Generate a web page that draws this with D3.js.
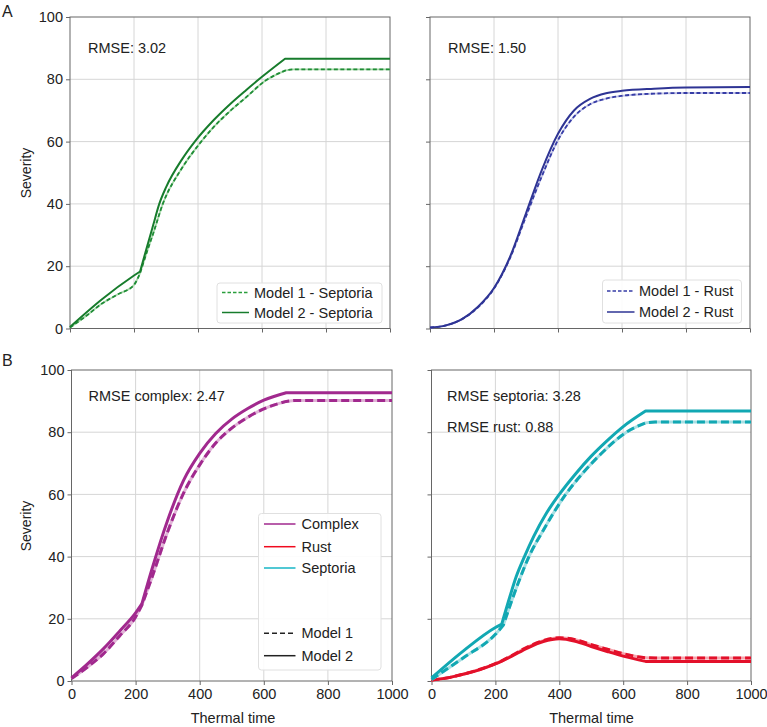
<!DOCTYPE html>
<html><head><meta charset="utf-8">
<script src="https://cdn.jsdelivr.net/npm/d3@7"></script>
<style>
body{margin:0;background:#fff;}
text{font-family:"Liberation Sans",Arial,Helvetica,sans-serif;fill:#222;}
</style></head><body>
<svg id="c" width="767" height="727"></svg>
<script>
// ---- data ----
const xTicks = [0,200,400,600,800,1000];
const yTicks = [0,20,40,60,80,100];

// Panel A left: Septoria
const tSeptM2 = [0,100,200,219,240,260,279,300,350,390,450,500,550,600,672,800,1000];
const septM2  = [0.5,9.4,17,18.3,26,33.2,40,45.3,54.3,60,67,72,76.5,80.8,86.6,86.6,86.6];
const tSeptM1 = [0,50,100,150,200,219,240,260,290,350,410,450,500,550,610,672,700,800,1000];
const septM1  = [0.3,4,8,11,14,17.8,24.5,30.5,40,51.5,60,64.8,69.8,74.2,79.5,82.8,83.2,83.2,83.2];
const septBreaks = [219,672];

// Panel A right: Rust
const tRust  = [0,50,100,150,200,250,300,350,400,450,500,550,600,700,800,1000];
const rustM2 = [0.3,1,3,7,13,23,37,51,62.5,70,73.7,75.5,76.3,77,77.4,77.5];
const rustM1 = [0.3,1,3,6.8,12.8,22.6,36,49,60.5,68,72,73.8,74.7,75.4,75.6,75.6];

// Panel B left: Complex
const tCx  = [0,50,100,150,200,220,250,300,350,400,450,500,550,600,670,700,800,1000];
const cxM2 = [1,5.5,10.4,16,21.9,24.9,35.6,51.7,64.6,73.2,79.6,84.2,87.6,90.3,92.7,92.7,92.7,92.7];
const cxM1 = [0.8,4.5,8.8,14.5,20.6,24.5,33,48,60.5,69.5,76.5,81.3,84.8,87.5,89.9,90.2,90.2,90.2];
const cxBreaks = [220,670];

// Panel B right: Septoria and Rust
const tBSeptM2 = [0,100,200,220,245,265,291,320,360,400,450,500,550,600,670,800,1000];
const bSeptM2  = [1,9.7,17.2,18.3,27,33.5,40,46.5,54,60,66.5,72.3,77.3,81.8,86.8,86.8,86.8];
const tBSeptM1 = [0,100,200,225,250,275,305,350,420,475,530,610,670,700,800,1000];
const bSeptM1  = [0.5,7.5,15,18,25.5,32.5,40,48.5,60,67,73,80,83,83.3,83.3,83.3];
const tBRust   = [0,50,100,150,200,220,250,300,350,400,450,500,550,600,670,700,800,1000];
const bRustM2  = [0.3,1,2.2,3.6,5.5,6.4,7.9,10.6,12.7,13.6,12.8,11.1,9.5,8,6.3,6.3,6.3,6.3];
const bRustM1  = [0.3,1,2.2,3.7,5.6,6.5,8.1,10.9,13.0,13.9,13.3,11.7,10.2,8.8,7.5,7.4,7.4,7.4];

const rmseA = ["RMSE: 3.02","RMSE: 1.50"];
const rmseB = ["RMSE complex: 2.47","RMSE septoria: 3.28","RMSE rust: 0.88"];

// ---- drawing ----
const svg = d3.select("#c");
const col = {
  green:"#177c2c", greenD:"#1f8c36", greenH:"#a6d8a8",
  blue:"#2e3494", blueD:"#363ca6", blueH:"#bfc1e6",
  purple:"#a1298e", purpleH:"#e0b3d6",
  red:"#e3102a", redH:"#f6a6ae",
  teal:"#12a8b3", tealH:"#a8dfe3"
};
const FS = 14.5;

function panel(L, T, W, H, opts){
  const g = svg.append("g").attr("transform",`translate(${L},${T})`);
  const x = d3.scaleLinear().domain([0,1000]).range([0,W]);
  const y = d3.scaleLinear().domain([0,100]).range([H,0]);
  g.append("g").selectAll("line").data(xTicks.slice(1,-1)).join("line")
    .attr("x1",d=>x(d)).attr("x2",d=>x(d)).attr("y1",0).attr("y2",H)
    .attr("stroke","#d6d6d6").attr("stroke-width",1);
  g.append("g").selectAll("line").data(yTicks.slice(1,-1)).join("line")
    .attr("y1",d=>y(d)).attr("y2",d=>y(d)).attr("x1",0).attr("x2",W)
    .attr("stroke","#d6d6d6").attr("stroke-width",1);
  const ax = g.append("g").attr("transform",`translate(0,${H})`)
    .call(d3.axisBottom(x).tickValues(xTicks).tickSize(4).tickPadding(4)
      .tickFormat(opts.xLabels? d3.format("d") : ()=>""));
  const ay = g.append("g")
    .call(d3.axisLeft(y).tickValues(yTicks).tickSize(4).tickPadding(3)
      .tickFormat(opts.yLabels? d3.format("d") : ()=>""));
  [ax,ay].forEach(a=>{
    a.select(".domain").remove();
    a.selectAll("line").attr("stroke","#666");
    a.selectAll("text").attr("font-size",FS).attr("fill","#222")
      .style("font-family",'"Liberation Sans",Arial,sans-serif');
  });
  g.append("rect").attr("x",0).attr("y",0).attr("width",W).attr("height",H)
    .attr("fill","none").attr("stroke","#666").attr("stroke-width",1);
  return {g,x,y,W,H};
}

// build path with monotone smoothing, but sharp corners at break points
function pathD(p, ts, vs, breaks){
  const pts = ts.map((t,i)=>[t,vs[i]]);
  const segs = [];
  let cur = [];
  pts.forEach(pt=>{
    cur.push(pt);
    if((breaks||[]).includes(pt[0]) && cur.length>1){ segs.push(cur); cur=[pt]; }
  });
  if(cur.length>1) segs.push(cur);
  const line = d3.line().x(d=>p.x(d[0])).y(d=>p.y(d[1])).curve(d3.curveMonotoneX);
  return segs.map((s,i)=>{ const d=line(s); return i===0? d : d.replace(/^M/,"L"); }).join("");
}

function curve(p, ts, vs, breaks, color, width, dash, halo){
  const d = pathD(p, ts, vs, breaks);
  if(halo){
    p.g.append("path").attr("d",d).attr("fill","none")
      .attr("stroke",halo).attr("stroke-width",width).attr("stroke-linejoin","round");
  }
  p.g.append("path").attr("d",d).attr("fill","none")
    .attr("stroke",color).attr("stroke-width",width).attr("stroke-linejoin","round")
    .attr("stroke-dasharray",dash||null);
}

function legend(p, bx, by, bw, bh, rows, fs){
  const lg = p.g.append("g");
  lg.append("rect").attr("x",bx).attr("y",by).attr("width",bw).attr("height",bh)
    .attr("rx",3).attr("fill","#fff").attr("fill-opacity",0.9)
    .attr("stroke","#e0e0e0").attr("stroke-width",1);
  rows.forEach(r=>{
    lg.append("line").attr("x1",bx+r.lx0).attr("x2",bx+r.lx1).attr("y1",r.y).attr("y2",r.y)
      .attr("stroke",r.color).attr("stroke-width",r.w).attr("stroke-dasharray",r.dash||null);
    lg.append("text").attr("x",bx+r.tx).attr("y",r.y).attr("dy","0.35em")
      .attr("font-size",fs).text(r.label);
  });
}

// Panel A left
const pA1 = panel(70,17,320,311.5,{xLabels:false,yLabels:true});
curve(pA1,tSeptM1,septM1,septBreaks,col.greenD,1.8,"4,2.5",col.greenH);
curve(pA1,tSeptM2,septM2,septBreaks,col.green,2,null,null);
pA1.g.append("text").attr("x",18).attr("y",31).attr("dy","0.35em").attr("font-size",FS).text(rmseA[0]);
legend(pA1,147,266,165,40,[
  {y:275.5,lx0:5,lx1:32,tx:37,color:"#2a9e3c",w:1.5,dash:"3.5,2",label:"Model 1 - Septoria"},
  {y:295.5,lx0:5,lx1:32,tx:37,color:col.green,w:1.5,label:"Model 2 - Septoria"}
],FS);

// Panel A right
const pA2 = panel(430,17,320,311.5,{xLabels:false,yLabels:false});
curve(pA2,tRust,rustM1,[],col.blueD,1.8,"4,2.5",col.blueH);
curve(pA2,tRust,rustM2,[],col.blue,2,null,null);
pA2.g.append("text").attr("x",18).attr("y",31).attr("dy","0.35em").attr("font-size",FS).text(rmseA[1]);
legend(pA2,172.5,263,139,43,[
  {y:274,lx0:4.5,lx1:32,tx:36.5,color:col.blueD,w:1.5,dash:"3.5,2",label:"Model 1 - Rust"},
  {y:295,lx0:4.5,lx1:32,tx:36.5,color:col.blue,w:1.5,label:"Model 2 - Rust"}
],FS);

// Panel B left
const pB1 = panel(71.5,370,320.5,311,{xLabels:true,yLabels:true});
curve(pB1,tCx,cxM1,cxBreaks,col.purple,3,"8,4",col.purpleH);
curve(pB1,tCx,cxM2,cxBreaks,col.purple,3,null,null);
pB1.g.append("text").attr("x",17).attr("y",25.7).attr("dy","0.35em").attr("font-size",FS).text(rmseB[0]);
legend(pB1,187,143.5,122.5,156.5,[
  {y:154,lx0:5.5,lx1:37,tx:43,color:col.purple,w:1.5,label:"Complex"},
  {y:176.7,lx0:5.5,lx1:37,tx:43,color:"#f00a1e",w:1.5,label:"Rust"},
  {y:198,lx0:5.5,lx1:37,tx:43,color:"#17b6c6",w:1.5,label:"Septoria"},
  {y:263.3,lx0:5.5,lx1:37,tx:43,color:"#222",w:1.5,dash:"5,3",label:"Model 1"},
  {y:285.7,lx0:5.5,lx1:37,tx:43,color:"#222",w:1.5,label:"Model 2"}
],FS);

// Panel B right
const pB2 = panel(431.5,370,319.5,311,{xLabels:true,yLabels:false});
curve(pB2,tBRust,bRustM1,[],col.red,3,"8,4",col.redH);
curve(pB2,tBRust,bRustM2,[670],col.red,3,null,null);
curve(pB2,tBSeptM1,bSeptM1,[225,670],col.teal,3,"8,4",col.tealH);
curve(pB2,tBSeptM2,bSeptM2,[220,670],col.teal,3,null,null);
pB2.g.append("text").attr("x",15.5).attr("y",25.7).attr("dy","0.35em").attr("font-size",FS).text(rmseB[1]);
pB2.g.append("text").attr("x",15.5).attr("y",57.3).attr("dy","0.35em").attr("font-size",FS).text(rmseB[2]);

// axis titles and panel letters
svg.append("text").attr("transform","translate(31,173) rotate(-90)").attr("text-anchor","middle")
  .attr("font-size",14).text("Severity");
svg.append("text").attr("transform","translate(31,526) rotate(-90)").attr("text-anchor","middle")
  .attr("font-size",14).text("Severity");
svg.append("text").attr("x",233).attr("y",718).attr("dy","0.35em").attr("text-anchor","middle")
  .attr("font-size",FS).text("Thermal time");
svg.append("text").attr("x",591.5).attr("y",718).attr("dy","0.35em").attr("text-anchor","middle")
  .attr("font-size",FS).text("Thermal time");
svg.append("text").attr("x",2).attr("y",11).attr("dy","0.35em").attr("font-size",16).text("A");
svg.append("text").attr("x",2).attr("y",360).attr("dy","0.35em").attr("font-size",16).text("B");
</script>
</body></html>
